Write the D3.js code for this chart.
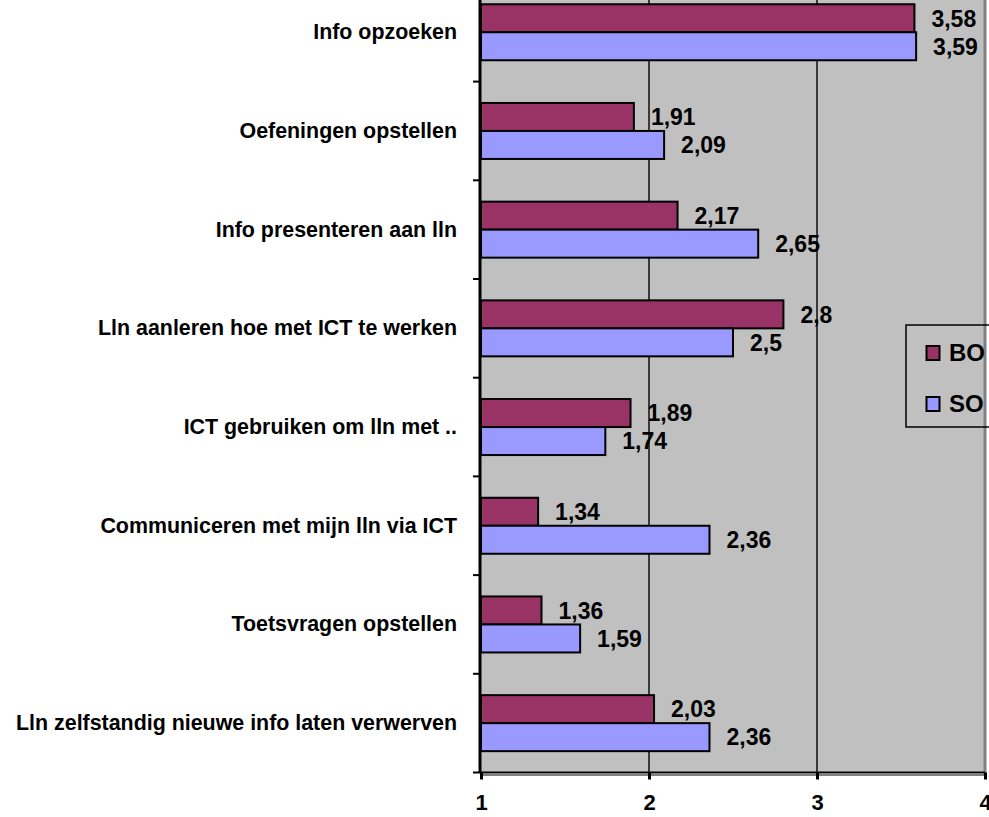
<!DOCTYPE html>
<html><head><meta charset="utf-8">
<script src="https://cdn.jsdelivr.net/npm/d3@7"></script>
<style>html,body{margin:0;padding:0;background:#fff;overflow:hidden}svg{display:block}</style>
</head><body>
<script>
const categories = [
  "Info opzoeken",
  "Oefeningen opstellen",
  "Info presenteren aan lln",
  "Lln aanleren hoe met ICT te werken",
  "ICT gebruiken om lln met ..",
  "Communiceren met mijn lln via ICT",
  "Toetsvragen opstellen",
  "Lln zelfstandig nieuwe info laten verwerven"
];
const seriesNames = ["BO", "SO"];
const boValues = [3.58, 1.91, 2.17, 2.8, 1.89, 1.34, 1.36, 2.03];
const soValues = [3.59, 2.09, 2.65, 2.5, 1.74, 2.36, 1.59, 2.36];
const xTicks = [1, 2, 3, 4];
const colors = ["#993366", "#9999FF"];

const W = 989, H = 817;
const left = 481, right = 985, bottom = 772.5, band = 98.7;
const svg = d3.select("body").append("svg").attr("width", W).attr("height", H);

const x = d3.scaleLinear().domain([1, 4]).range([left, right]);
const y = d3.scaleBand().domain(categories).range([bottom - band * categories.length, bottom]).padding(0);
const ySub = d3.scaleBand().domain(seriesNames).range([21.35, band - 21.35]).padding(0);

const font = "'Liberation Sans', Arial, Helvetica, sans-serif";

// plot background
svg.append("rect").attr("x", left).attr("y", 0).attr("width", right - left).attr("height", bottom)
  .attr("fill", "#C0C0C0");

// gridlines
svg.append("g").selectAll("line").data(xTicks.filter(t => t > 1 && t < 4)).join("line")
  .attr("x1", d => x(d)).attr("x2", d => x(d)).attr("y1", 0).attr("y2", bottom)
  .attr("stroke", "#3a3a3a").attr("stroke-width", 2);

// bars
const data = [];
categories.forEach((c, i) => {
  data.push({c, s: "BO", v: boValues[i]});
  data.push({c, s: "SO", v: soValues[i]});
});
const g = svg.append("g");
g.selectAll("rect").data(data).join("rect")
  .attr("x", x(1))
  .attr("y", d => y(d.c) + ySub(d.s))
  .attr("width", d => x(d.v) - x(1))
  .attr("height", ySub.bandwidth())
  .attr("fill", d => colors[seriesNames.indexOf(d.s)])
  .attr("stroke", "#000").attr("stroke-width", 2);

// value labels
g.selectAll("text").data(data).join("text")
  .attr("x", d => x(d.v) + 17)
  .attr("y", d => y(d.c) + ySub(d.s) + ySub.bandwidth() / 2)
  .attr("dy", "0.36em")
  .attr("font-family", font).attr("font-weight", "bold").attr("font-size", 23)
  .attr("fill", "#000")
  .text(d => String(d.v).replace(".", ","));

// plot border (right / bottom) in gray
svg.append("line").attr("x1", right).attr("x2", right).attr("y1", 0).attr("y2", bottom + 3)
  .attr("stroke", "#808080").attr("stroke-width", 3);
svg.append("line").attr("x1", left).attr("x2", right + 1.5).attr("y1", bottom + 2.5).attr("y2", bottom + 2.5)
  .attr("stroke", "#808080").attr("stroke-width", 2);

// x axis
const xAxis = svg.append("g").attr("transform", `translate(0,${bottom})`)
  .call(d3.axisBottom(x).tickValues(xTicks).tickSize(7).tickPadding(15).tickFormat(d3.format("d")));
xAxis.select(".domain").attr("stroke", "#000").attr("stroke-width", 2).attr("d", `M${left - 8},0H${right}`);
xAxis.selectAll(".tick line").attr("stroke", "#000").attr("stroke-width", 3);
xAxis.selectAll(".tick text").attr("font-family", font).attr("font-weight", "bold")
  .attr("font-size", 22).attr("fill", "#000");

// y axis (labels)
const yAxis = svg.append("g").attr("transform", `translate(${left},0)`)
  .call(d3.axisLeft(y).tickSize(0).tickPadding(24));
yAxis.select(".domain").remove();
yAxis.selectAll(".tick text").attr("font-family", font).attr("font-weight", "bold")
  .attr("font-size", 21.4).attr("fill", "#000");
svg.append("line").attr("x1", left - 1).attr("x2", left - 1).attr("y1", 0).attr("y2", bottom)
  .attr("stroke", "#000").attr("stroke-width", 3);
// boundary ticks
svg.append("g").selectAll("line").data(categories.slice(1)).join("line")
  .attr("x1", left - 8).attr("x2", left).attr("y1", d => y(d)).attr("y2", d => y(d))
  .attr("stroke", "#000").attr("stroke-width", 2);

// legend
const lg = svg.append("g");
lg.append("rect").attr("x", 906).attr("y", 325).attr("width", 120).attr("height", 102)
  .attr("fill", "none").attr("stroke", "#000").attr("stroke-width", 1.5);
seriesNames.forEach((s, i) => {
  const yy = 346 + i * 51;
  lg.append("rect").attr("x", 926.5).attr("y", yy).attr("width", 13).attr("height", 14)
    .attr("fill", colors[i]).attr("stroke", "#000").attr("stroke-width", 2);
  lg.append("text").attr("x", 949).attr("y", yy + 15).attr("font-family", font)
    .attr("font-weight", "bold").attr("font-size", 24).attr("fill", "#000").text(s);
});
</script>
</body></html>
